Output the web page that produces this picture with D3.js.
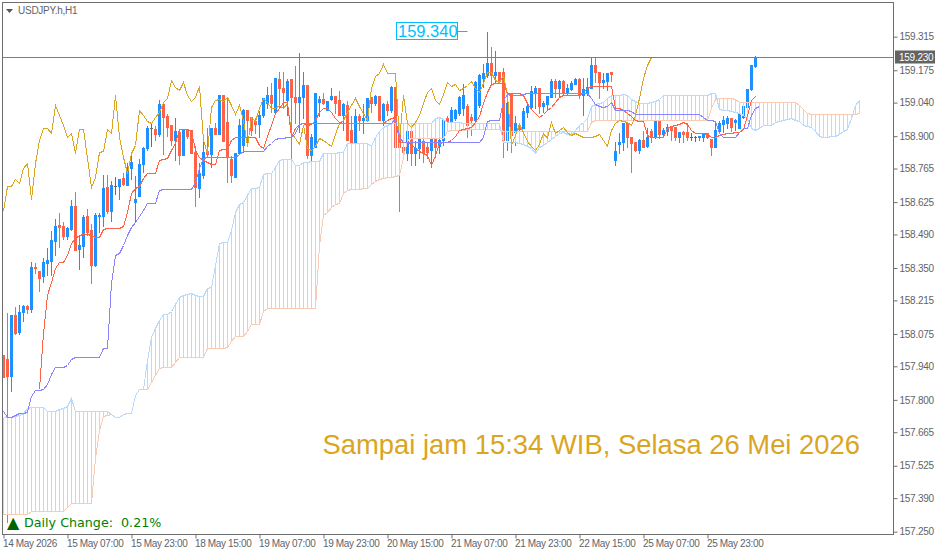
<!DOCTYPE html>
<html>
<head>
<meta charset="utf-8">
<script src="https://cdn.jsdelivr.net/npm/d3@7"></script>
<style>
  html, body { margin: 0; padding: 0; background: #fff; }
  svg { display: block; }
</style>
</head>
<body>
<svg id="chart" width="939" height="555"></svg>
<script>
const opens = [157.988,157.971,157.900,158.154,158.084,158.167,158.192,158.179,158.355,158.338,158.317,158.371,158.380,158.463,158.530,158.526,158.484,158.513,158.609,158.430,158.442,158.567,158.509,158.363,158.567,158.567,158.688,158.588,158.692,158.692,158.726,158.697,158.767,158.626,158.651,158.784,158.851,158.934,158.930,158.909,159.034,158.984,158.947,158.884,158.918,158.822,158.926,158.926,158.834,158.684,158.738,158.838,158.826,158.934,158.909,159.072,158.959,158.805,158.730,158.830,158.863,159.009,158.980,158.963,158.951,158.988,159.038,159.072,159.001,159.139,159.101,159.051,159.139,159.063,159.043,159.063,159.114,158.822,158.855,159.043,159.055,159.009,159.055,159.068,159.051,158.988,159.030,158.926,158.872,158.984,158.968,158.968,159.063,159.038,159.068,158.968,159.034,159.009,159.105,158.934,158.855,158.830,158.922,158.830,158.851,158.880,158.855,158.843,158.888,158.859,158.884,158.976,158.963,158.976,158.997,159.018,159.026,158.980,158.968,159.030,159.143,159.155,159.205,159.155,159.168,159.168,158.884,159.080,158.918,158.947,158.934,159.001,159.022,159.084,159.101,159.026,159.034,159.063,159.130,159.101,159.130,159.080,159.097,159.118,159.139,159.072,159.080,159.101,159.197,159.168,159.126,159.130,159.168,158.801,158.868,158.876,158.955,158.897,158.876,158.843,158.884,158.859,158.922,158.897,158.968,158.909,158.922,158.938,158.938,158.897,158.918,158.918,158.897,158.897,158.897,158.897,158.913,158.888,158.855,158.922,158.951,158.955,158.976,158.959,158.934,158.980,159.022,159.097,159.193];
const closes = [157.896,157.900,158.154,158.079,158.167,158.192,158.179,158.355,158.350,158.309,158.375,158.384,158.467,158.526,158.521,158.484,158.517,158.609,158.426,158.446,158.563,158.501,158.363,158.571,158.571,158.684,158.588,158.697,158.692,158.722,158.701,158.767,158.793,158.638,158.784,158.851,158.934,158.934,158.909,159.034,158.980,158.938,158.884,158.922,158.822,158.926,158.901,158.830,158.688,158.747,158.834,158.826,158.934,158.909,159.072,158.880,158.818,158.738,158.830,158.947,159.009,158.968,158.926,158.951,158.988,159.059,159.072,159.038,159.143,159.101,159.084,159.130,159.063,159.043,159.063,159.114,158.822,158.897,159.080,159.055,159.038,159.047,159.068,159.038,158.988,159.034,158.884,158.872,158.984,158.968,158.976,159.059,159.038,159.068,158.968,159.034,159.009,159.105,158.855,158.855,158.834,158.922,158.830,158.851,158.893,158.830,158.834,158.888,158.855,158.884,158.968,158.963,159.009,159.009,159.063,159.072,158.947,158.968,159.126,159.155,159.164,159.205,159.155,159.168,159.134,158.884,159.038,158.905,158.955,158.930,159.005,159.026,159.089,159.101,159.026,159.038,159.068,159.130,159.101,159.130,159.080,159.101,159.122,159.139,159.072,159.097,159.105,159.197,159.168,159.126,159.134,159.164,159.159,158.838,158.876,158.955,158.897,158.872,158.843,158.884,158.855,158.897,158.897,158.968,158.909,158.926,158.938,158.926,158.897,158.918,158.909,158.897,158.897,158.897,158.901,158.913,158.897,158.855,158.926,158.955,158.968,158.976,158.938,158.968,158.997,159.026,159.097,159.197,159.230];
const highs = [157.988,158.167,158.154,158.192,158.200,158.200,158.200,158.380,158.375,158.338,158.396,158.438,158.509,158.559,158.584,158.546,158.526,158.638,158.672,158.492,158.576,158.601,158.538,158.584,158.584,158.742,158.742,158.717,158.734,158.726,158.751,158.793,158.822,158.738,158.809,158.859,158.947,158.955,158.947,159.055,159.038,158.997,158.947,158.980,158.934,158.934,158.934,158.926,158.863,158.793,158.913,158.938,158.938,158.959,159.072,159.072,159.063,158.822,158.834,158.976,159.018,159.013,158.980,158.980,159.009,159.059,159.109,159.126,159.147,159.172,159.172,159.143,159.143,159.197,159.251,159.172,159.114,158.913,159.084,159.072,159.084,159.047,159.105,159.072,159.093,159.043,159.051,158.988,159.018,158.997,159.038,159.063,159.063,159.076,159.068,159.043,159.051,159.114,159.105,158.934,158.926,158.926,158.926,158.884,158.893,158.905,158.876,158.893,158.897,158.893,158.976,158.988,159.026,159.018,159.072,159.122,159.038,158.997,159.134,159.164,159.205,159.340,159.276,159.260,159.168,159.189,159.059,159.080,158.988,158.959,159.022,159.038,159.114,159.114,159.105,159.051,159.072,159.143,159.143,159.139,159.139,159.122,159.134,159.147,159.147,159.147,159.147,159.230,159.230,159.168,159.168,159.168,159.172,158.880,158.918,158.959,158.959,158.897,158.876,158.893,158.926,158.938,158.934,158.976,158.976,158.938,158.955,158.943,158.938,158.922,158.926,158.959,158.918,158.905,158.905,158.918,158.918,158.893,158.959,158.968,158.988,158.988,158.980,158.976,158.997,159.030,159.101,159.201,159.239];
const lows = [157.896,157.291,157.838,158.075,158.075,158.129,158.163,158.167,158.330,158.255,158.292,158.321,158.321,158.405,158.438,158.471,158.471,158.509,158.426,158.346,158.396,158.488,158.288,158.359,158.501,158.526,158.580,158.546,158.659,158.638,158.697,158.697,158.722,158.542,158.651,158.751,158.843,158.859,158.884,158.901,158.826,158.901,158.863,158.801,158.784,158.822,158.893,158.830,158.609,158.646,158.726,158.813,158.772,158.909,158.909,158.880,158.709,158.709,158.730,158.830,158.834,158.872,158.905,158.913,158.897,158.980,159.018,159.001,158.997,159.022,159.018,158.988,158.801,158.955,158.918,158.976,158.809,158.801,158.855,158.984,159.034,159.009,159.051,158.997,158.988,158.926,158.884,158.872,158.872,158.926,158.913,158.968,159.001,159.030,158.968,158.947,158.988,159.001,158.851,158.588,158.830,158.801,158.780,158.780,158.809,158.793,158.809,158.772,158.813,158.830,158.863,158.926,158.959,158.968,158.988,158.988,158.897,158.905,158.959,159.022,159.105,159.147,159.122,159.126,159.122,158.813,158.843,158.834,158.863,158.905,158.934,158.980,159.018,159.018,158.997,159.001,159.009,159.063,159.063,159.063,159.072,159.072,159.093,159.118,159.059,158.988,159.072,159.101,159.126,159.059,159.101,159.093,159.130,158.780,158.830,158.843,158.855,158.751,158.838,158.830,158.855,158.855,158.876,158.893,158.893,158.897,158.905,158.884,158.884,158.876,158.876,158.884,158.884,158.880,158.884,158.880,158.893,158.822,158.855,158.913,158.918,158.934,158.922,158.926,158.934,158.976,159.018,159.093,159.189];

// tenkan starts at bar 9
const tenkanStart = 9;
const tenkan = [157.846,158.079,158.238,158.292,158.350,158.375,158.375,158.405,158.455,158.476,158.488,158.492,158.492,158.488,158.480,158.480,158.513,158.517,158.517,158.517,158.517,158.526,158.584,158.663,158.684,158.692,158.726,158.747,158.747,158.747,158.801,158.805,158.809,158.843,158.872,158.930,158.930,158.930,158.922,158.843,158.813,158.801,158.793,158.784,158.784,158.843,158.847,158.847,158.884,158.897,158.897,158.897,158.897,158.897,158.897,158.863,158.851,158.901,158.947,158.997,159.018,159.043,159.043,158.897,158.934,158.951,158.955,158.947,158.951,158.968,159.001,159.018,159.018,159.001,158.976,158.959,158.955,158.955,158.955,158.955,158.955,158.955,158.955,158.955,158.955,158.955,158.955,158.968,158.976,158.980,158.876,158.876,158.876,158.868,158.851,158.838,158.830,158.822,158.780,158.822,158.872,158.876,158.876,158.884,158.901,158.926,158.930,158.934,158.938,158.959,158.984,159.038,159.084,159.118,159.122,159.122,159.122,159.080,159.080,159.080,159.080,159.072,159.038,159.013,158.997,158.980,158.993,159.009,159.022,159.043,159.063,159.072,159.072,159.072,159.072,159.072,159.084,159.101,159.109,159.109,159.109,159.109,159.109,159.109,159.018,159.018,159.009,158.997,158.984,158.968,158.963,158.963,158.905,158.897,158.897,158.897,158.897,158.934,158.943,158.947,158.951,158.959,158.951,158.926,158.913,158.913,158.913,158.909,158.897,158.897,158.905,158.909,158.913,158.913,158.918,158.918,158.930,158.988,159.051,159.068];
const kijun = [157.754,157.729,157.729,157.737,157.746,157.746,157.750,157.817,157.842,157.842,157.846,157.867,157.908,157.938,157.938,157.938,157.946,157.971,157.979,157.979,157.979,157.979,157.979,157.979,157.979,158.017,158.017,158.288,158.405,158.413,158.446,158.488,158.521,158.542,158.567,158.592,158.621,158.621,158.621,158.676,158.680,158.680,158.680,158.680,158.680,158.680,158.680,158.680,158.709,158.767,158.809,158.813,158.813,158.813,158.813,158.813,158.813,158.813,158.813,158.826,158.838,158.838,158.838,158.838,158.838,158.838,158.859,158.872,158.888,158.893,158.893,158.897,158.897,158.913,158.951,158.955,158.955,158.955,158.955,158.955,158.955,158.955,158.955,158.955,158.955,158.955,158.955,158.955,158.955,158.955,158.955,158.955,158.955,158.955,158.955,158.955,158.955,158.955,158.976,158.897,158.876,158.876,158.876,158.876,158.876,158.876,158.876,158.876,158.876,158.876,158.876,158.876,158.876,158.876,158.876,158.876,158.876,158.876,158.876,158.876,158.897,158.963,158.968,158.968,158.968,159.051,159.076,159.072,159.072,159.072,159.076,159.080,159.080,159.080,159.080,159.080,159.080,159.080,159.080,159.080,159.080,159.080,159.080,159.080,159.080,159.080,159.080,159.059,159.034,159.026,159.022,159.026,159.043,159.009,159.009,159.009,159.009,159.005,158.993,158.993,158.993,158.993,158.993,158.993,158.993,158.993,158.993,158.993,158.993,158.993,158.993,158.993,158.993,158.993,158.993,158.980,158.968,158.968,158.963,158.913,158.897,158.897,158.897,158.897,158.918,158.934,158.934,158.988,159.018,159.026];
const chikou = [158.588,158.692,158.692,158.722,158.705,158.767,158.788,158.638,158.788,158.884,158.934,158.934,158.913,159.030,158.988,158.947,158.897,158.913,158.830,158.930,158.930,158.809,158.688,158.730,158.834,158.838,158.930,158.913,159.072,158.897,158.813,158.747,158.830,158.863,159.009,158.988,158.963,158.955,158.980,159.001,159.043,159.059,159.134,159.105,159.093,159.126,159.072,159.047,159.063,159.109,158.884,158.830,159.022,159.051,159.055,159.047,159.063,159.030,158.993,159.030,158.968,158.859,158.980,158.963,159.018,159.059,159.043,159.018,159.018,159.030,159.018,159.038,158.913,158.893,158.868,158.947,158.851,158.843,158.859,158.893,158.884,158.872,158.859,158.909,158.955,158.968,159.001,159.030,159.059,159.026,158.997,158.968,159.101,159.151,159.164,159.201,159.164,159.164,159.164,158.880,159.072,158.955,158.938,158.959,158.988,159.038,159.084,159.101,159.051,159.034,159.076,159.126,159.109,159.118,159.093,159.101,159.114,159.130,159.101,159.084,159.122,159.168,159.168,159.134,159.126,159.155,159.072,158.863,158.905,158.951,158.918,158.880,158.859,158.843,158.868,158.913,158.893,158.959,158.913,158.926,158.938,158.918,158.905,158.913,158.905,158.897,158.897,158.897,158.901,158.909,158.884,158.859,158.926,158.955,158.968,158.963,158.959,158.947,158.988,159.059,159.143,159.197,159.230];
const spanBlue = [157.729,157.729,157.729,157.733,157.737,157.746,157.767,157.771,157.771,157.771,157.771,157.754,157.754,157.754,157.762,157.767,157.775,157.808,157.754,157.754,157.754,157.754,157.754,157.754,157.754,157.754,157.754,157.742,157.729,157.729,157.742,157.746,157.746,157.821,157.846,157.846,157.967,158.063,158.100,158.134,158.159,158.159,158.171,158.200,158.229,158.238,158.242,158.246,158.238,158.234,158.234,158.267,158.271,158.363,158.455,158.459,158.459,158.509,158.584,158.617,158.626,158.655,158.684,158.684,158.688,158.742,158.747,158.747,158.772,158.801,158.805,158.805,158.805,158.780,158.780,158.793,158.793,158.797,158.797,158.797,158.830,158.830,158.830,158.830,158.834,158.834,158.872,158.872,158.872,158.872,158.872,158.872,158.859,158.897,158.922,158.938,158.947,158.955,158.955,158.955,158.955,158.955,158.955,158.955,158.955,158.955,158.955,158.955,158.976,158.980,158.972,158.959,158.959,158.959,158.959,158.955,158.955,158.955,158.955,158.955,158.955,158.955,158.955,158.955,158.955,158.876,158.876,158.876,158.876,158.872,158.868,158.859,158.851,158.830,158.855,158.863,158.876,158.888,158.901,158.913,158.918,158.909,158.905,158.926,158.947,158.959,158.976,159.026,159.034,159.038,159.043,159.059,159.072,159.072,159.072,159.076,159.072,159.055,159.047,159.038,159.038,159.038,159.043,159.047,159.055,159.072,159.072,159.072,159.072,159.072,159.072,159.072,159.072,159.072,159.072,159.072,159.072,159.080,159.080,159.013,159.009,159.009,159.005,159.001,158.997,158.988,158.976,158.934,158.926,158.934,158.947,158.947,158.947,158.959,158.963,158.968,158.972,158.976,158.968,158.963,158.947,158.943,158.938,158.922,158.901,158.897,158.897,158.901,158.901,158.909,158.922,158.930,158.976,159.030,159.051];
const spanPeach = [157.325,157.325,157.325,157.325,157.325,157.325,157.325,157.337,157.337,157.337,157.337,157.337,157.337,157.337,157.337,157.337,157.354,157.371,157.371,157.371,157.371,157.371,157.371,157.558,157.675,157.733,157.737,157.742,157.729,157.729,157.742,157.746,157.746,157.821,157.846,157.846,157.846,157.875,157.904,157.933,157.938,157.938,157.938,157.958,157.979,157.979,157.979,157.979,157.979,157.979,157.979,158.017,158.017,158.017,158.017,158.017,158.021,158.046,158.067,158.067,158.067,158.088,158.117,158.117,158.117,158.171,158.184,158.184,158.184,158.184,158.184,158.184,158.184,158.184,158.184,158.184,158.184,158.184,158.184,158.446,158.571,158.584,158.605,158.617,158.621,158.663,158.676,158.680,158.680,158.680,158.684,158.684,158.701,158.713,158.722,158.726,158.730,158.730,158.734,158.738,158.813,158.884,158.893,158.893,158.893,158.893,158.893,158.893,158.893,158.893,158.893,158.922,158.926,158.926,158.926,158.926,158.930,158.930,158.930,158.930,158.930,158.930,158.930,158.930,158.930,158.922,158.922,158.922,158.922,158.922,158.922,158.922,158.922,158.922,158.922,158.922,158.922,158.922,158.922,158.922,158.922,158.922,158.922,158.922,158.922,158.922,158.922,158.959,158.968,158.968,158.968,158.968,158.968,158.968,158.968,158.968,158.968,158.968,158.968,158.968,158.968,158.968,158.968,158.968,158.968,158.968,158.968,158.968,158.968,158.968,158.968,158.968,158.968,158.968,158.968,158.968,158.968,159.018,159.055,159.059,159.059,159.059,159.059,159.055,159.043,159.043,159.043,159.043,159.043,159.043,159.043,159.043,159.043,159.043,159.043,159.043,159.043,159.043,159.043,159.030,159.013,158.997,158.993,158.993,158.993,158.993,158.993,158.993,158.993,158.993,158.993,158.993,158.993,158.993,158.997];

const priceTicks = [159.315,159.175,159.040,158.900,158.765,158.625,158.490,158.350,158.215,158.075,157.940,157.800,157.665,157.525,157.390,157.250];
const timeBars = [0,16,32,48,64,80,96,112,128,144,160,176];
const timeLabels = ["14 May 2026","15 May 07:00","15 May 23:00","18 May 15:00","19 May 07:00","19 May 23:00","20 May 15:00","21 May 07:00","21 May 23:00","22 May 15:00","25 May 07:00","25 May 23:00"];

const symbolTitle = "USDJPY.h,H1";
const lastPrice = 159.230;
const highPrice = 159.340;
const highBar = 121;
const dailyChange = "Daily Change:  0.21%";
const stamp = "Sampai jam 15:34 WIB, Selasa 26 Mei 2026";

const colorUp = "#1E90FF", colorDown = "#FF6347", colorDoji = "#696969";
const frameColor = "#6e6e6e", textColor = "#5f6368";

const svg = d3.select("#chart");
const frame = { left: 2.5, right: 893.5, top: 2.5, bottom: 534.5 };

const xScale = d3.scaleLinear().domain([0, 214]).range([3.5, 859.5]);
const yScale = d3.scaleLinear().domain([157.25, 159.315]).range([531.7, 36.7]);
const py = v => Math.round(yScale(v)) + 0.5;

// candles first, ichimoku goes on top like in the terminal
const bars = d3.range(opens.length);
const candles = svg.append("g").attr("shape-rendering", "crispEdges");
const barColor = i => closes[i] > opens[i] ? colorUp : closes[i] < opens[i] ? colorDown : colorDoji;

candles.selectAll(".wick").data(bars).enter().append("line")
    .attr("class", "wick")
    .attr("x1", i => xScale(i)).attr("x2", i => xScale(i))
    .attr("y1", i => py(highs[i])).attr("y2", i => py(lows[i]))
    .attr("stroke", barColor);

candles.selectAll(".body").data(bars).enter().append("rect")
    .attr("class", "body")
    .attr("x", i => xScale(i) - 1.5)
    .attr("y", i => py(Math.max(opens[i], closes[i])) - 0.5)
    .attr("width", 3)
    .attr("height", i => Math.max(1, py(Math.min(opens[i], closes[i])) - py(Math.max(opens[i], closes[i])) + 1))
    .attr("fill", barColor);

const cloudBlue = "#B9DAFF", cloudPeach = "#F8CBB5";
const spanIdx = d3.range(spanBlue.length);
const cloud = svg.append("g").attr("shape-rendering", "crispEdges");

cloud.selectAll(".hatch").data(spanIdx.filter(j => spanBlue[j] !== spanPeach[j])).enter().append("line")
    .attr("class", "hatch")
    .attr("x1", j => xScale(j)).attr("x2", j => xScale(j))
    .attr("y1", j => py(spanBlue[j])).attr("y2", j => py(spanPeach[j]))
    .attr("stroke", j => spanBlue[j] > spanPeach[j] ? cloudBlue : cloudPeach);

function drawLine(values, start, color) {
    const line = d3.line().x((d, i) => xScale(start + i)).y(d => py(d));
    svg.append("path")
        .attr("d", line(values))
        .attr("fill", "none")
        .attr("stroke", color)
        .attr("stroke-width", 1)
        .attr("shape-rendering", "crispEdges");
}

drawLine(spanPeach, 0, cloudPeach);
drawLine(spanBlue, 0, cloudBlue);
drawLine(chikou, 0, "#DAA520");
drawLine(tenkan, tenkanStart, colorDown);
drawLine(kijun, 0, "#8A84FF");

// last price line
svg.append("line")
    .attr("x1", frame.left).attr("x2", frame.right)
    .attr("y1", py(lastPrice)).attr("y2", py(lastPrice))
    .attr("stroke", "#708090");

// frame
svg.append("rect")
    .attr("x", frame.left).attr("y", frame.top)
    .attr("width", frame.right - frame.left).attr("height", frame.bottom - frame.top)
    .attr("fill", "none").attr("stroke", frameColor);

svg.append("path")
    .attr("d", "M6,9L13,9L9.5,13Z")
    .attr("fill", "#555");

svg.append("text")
    .attr("x", 18).attr("y", 14)
    .attr("font-family", "Liberation Sans").attr("font-size", 10)
    .attr("letter-spacing", "-0.25")
    .attr("fill", textColor)
    .text(symbolTitle);

// axes
const axisFont = "Liberation Sans";
const yAxis = svg.append("g")
    .attr("transform", `translate(${frame.right},0)`)
    .call(d3.axisRight(yScale).tickValues(priceTicks).tickFormat(d3.format(".3f")).tickSize(4).tickPadding(2));
yAxis.select(".domain").remove();
yAxis.selectAll("line").attr("stroke", frameColor);
yAxis.selectAll("text")
    .attr("font-family", axisFont).attr("font-size", 10).attr("fill", textColor)
    .attr("letter-spacing", "-0.25");

const xAxis = svg.append("g")
    .attr("transform", `translate(0,${frame.bottom})`)
    .call(d3.axisBottom(xScale).tickValues(timeBars).tickFormat((d, i) => timeLabels[i]).tickSize(4).tickPadding(1));
xAxis.select(".domain").remove();
xAxis.selectAll("line").attr("stroke", frameColor);
xAxis.selectAll("text")
    .attr("text-anchor", "start")
    .attr("dx", -1)
    .attr("font-family", axisFont).attr("font-size", 10).attr("fill", textColor)
    .attr("letter-spacing", "-0.35");

// current price tag
svg.append("rect")
    .attr("x", 895).attr("y", py(lastPrice) - 7)
    .attr("width", 40).attr("height", 13)
    .attr("fill", "#636363");
svg.append("text")
    .attr("x", 899).attr("y", py(lastPrice) + 3.5)
    .attr("font-family", axisFont).attr("font-size", 10).attr("letter-spacing", "-0.25")
    .attr("fill", "#fff")
    .text(lastPrice.toFixed(3));

// high marker
const highG = svg.append("g");
highG.append("line")
    .attr("x1", 458).attr("x2", xScale(highBar) - 20)
    .attr("y1", py(highPrice)).attr("y2", py(highPrice))
    .attr("stroke", "#00BFFF");
highG.append("rect")
    .attr("x", 396.5).attr("y", 22.5).attr("width", 61).attr("height", 17)
    .attr("fill", "#fff").attr("stroke", "#00BFFF");
highG.append("text")
    .attr("x", 398).attr("y", 37)
    .attr("font-family", "Liberation Sans").attr("font-size", 16.5)
    .attr("fill", "#00BFFF")
    .text(highPrice.toFixed(3));

// daily change
svg.append("text")
    .attr("x", 7).attr("y", 528)
    .attr("font-family", "DejaVu Sans").attr("font-size", 16)
    .attr("fill", "#006400")
    .text("\u25B2");
svg.append("text")
    .attr("x", 24).attr("y", 527)
    .attr("font-family", "DejaVu Sans").attr("font-size", 12.7)
    .attr("fill", "#008000")
    .style("white-space", "pre")
    .text(dailyChange);

svg.append("text")
    .attr("x", 860).attr("y", 453.5)
    .attr("text-anchor", "end")
    .attr("font-family", "Liberation Sans").attr("font-size", 27.4)
    .attr("fill", "#DAA520")
    .text(stamp);
</script>
</body>
</html>
